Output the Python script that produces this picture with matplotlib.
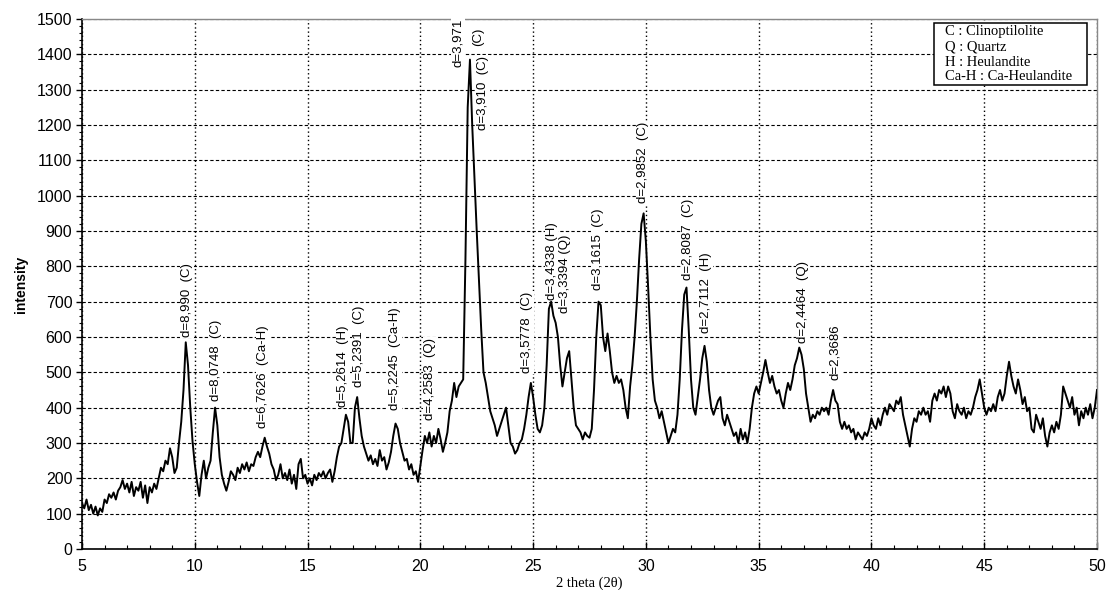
import numpy as np
import matplotlib
matplotlib.use("Agg")
import matplotlib.pyplot as plt
from matplotlib.ticker import MultipleLocator
from matplotlib.patches import Rectangle

# ---- data ----
two_theta = np.round(np.arange(5.0, 50.001, 0.1), 1)
intensity = [
    130, 115, 140, 110, 125, 100, 120, 95, 115, 105,        # 5
    140, 130, 155, 145, 160, 140, 165, 175, 195, 170,       # 6
    185, 160, 190, 150, 175, 165, 190, 145, 180, 130,       # 7
    175, 160, 185, 170, 200, 230, 220, 250, 240, 285,       # 8
    260, 215, 230, 300, 360, 450, 585, 520, 400, 305,       # 9
    240, 190, 150, 210, 250, 200, 230, 250, 330, 400,       # 10
    350, 260, 210, 185, 165, 190, 220, 210, 195, 230,       # 11
    215, 240, 225, 245, 220, 240, 235, 260, 275, 260,       # 12
    290, 315, 290, 270, 240, 225, 195, 210, 240, 200,       # 13
    215, 195, 225, 185, 210, 170, 240, 255, 200, 210,       # 14
    185, 200, 180, 210, 195, 215, 205, 220, 200, 215,       # 15
    225, 190, 220, 260, 290, 300, 340, 380, 360, 300,       # 16
    300, 400, 430, 370, 320, 290, 270, 250, 265, 240,       # 17
    255, 235, 280, 250, 260, 225, 245, 275, 320, 355,       # 18
    340, 300, 275, 250, 255, 225, 240, 210, 220, 190,       # 19
    235, 280, 320, 300, 330, 290, 320, 300, 340, 310,       # 20
    275, 300, 330, 390, 420, 470, 430, 460, 470, 480,       # 21
    820, 1250, 1385, 1200, 1050, 900, 760, 620, 500, 470,   # 22
    430, 390, 370, 350, 320, 340, 360, 380, 400, 350,       # 23
    300, 290, 270, 280, 300, 310, 340, 380, 430, 470,       # 24
    430, 380, 340, 330, 350, 400, 520, 680, 700, 660,       # 25
    640, 600, 520, 460, 500, 540, 560, 480, 400, 350,       # 26
    340, 330, 310, 330, 320, 315, 340, 450, 600, 700,       # 27
    690, 600, 560, 610, 560, 500, 470, 490, 470, 480,       # 28
    450, 400, 370, 460, 520, 600, 700, 820, 920, 950,       # 29
    870, 740, 600, 480, 420, 400, 370, 390, 360, 330,       # 30
    300, 320, 340, 330, 380, 480, 620, 720, 740, 620,       # 31
    480, 400, 380, 430, 480, 540, 575, 530, 450, 400,       # 32
    380, 400, 420, 430, 370, 350, 380, 360, 340, 320,       # 33
    330, 300, 340, 310, 330, 300, 340, 400, 440, 460,       # 34
    440, 470, 500, 535, 500, 470, 490, 460, 440, 450,       # 35
    420, 400, 440, 470, 450, 480, 520, 540, 570, 550,       # 36
    510, 440, 400, 360, 380, 370, 390, 380, 400, 390,       # 37
    400, 380, 420, 450, 420, 410, 360, 340, 360, 340,       # 38
    350, 330, 340, 310, 330, 320, 310, 330, 320, 340,       # 39
    370, 350, 340, 370, 350, 380, 400, 380, 410, 400,       # 40
    390, 420, 410, 430, 380, 350, 320, 290, 340, 370,       # 41
    360, 390, 380, 400, 380, 390, 360, 420, 440, 420,       # 42
    450, 440, 460, 430, 460, 440, 390, 370, 410, 390,       # 43
    380, 400, 370, 390, 380, 400, 430, 450, 480, 440,       # 44
    400, 380, 400, 390, 410, 390, 430, 450, 420, 440,       # 45
    490, 530, 490, 460, 440, 480, 450, 410, 430, 390,       # 46
    400, 340, 330, 380, 360, 340, 370, 320, 290, 330,       # 47
    350, 330, 360, 340, 380, 460, 440, 420, 400, 430,       # 48
    380, 400, 350, 390, 370, 400, 380, 410, 370, 400,       # 49
    450,                                                    # 50
]

peak_labels = [
    "d=8,990  (C)", "d=8,0748  (C)", "d=6,7626  (Ca-H)", "d=5,2614  (H)",
    "d=5,2391  (C)", "d=5,2245  (Ca-H)", "d=4,2583  (Q)", "d=3,971",
    "d=3,910  (C)", "d=3,5778  (C)", "d=3,4338 (H)", "d=3,3394 (Q)",
    "d=3,1615  (C)", "d=2,9852  (C)", "d=2,8087  (C)", "d=2,7112  (H)",
    "d=2,4464  (Q)", "d=2,3686",
]
label_x = [9.65, 10.94, 13.03, 16.57, 17.28, 18.87, 20.43, 21.67,
           22.78, 24.73, 25.83, 26.41, 27.87, 29.87, 31.86, 32.66,
           36.96, 38.38]
label_y = [600, 420, 342, 402, 459, 393, 365, 1364,
           1186, 498, 705, 668, 733, 979, 761, 611,
           583, 478]

legend_lines = ["C : Clinoptilolite", "Q : Quartz", "H : Heulandite",
                "Ca-H : Ca-Heulandite"]

# ---- figure ----
W, H = 1107, 590
L, R, T, B = 82, 1097, 19, 549
fig = plt.figure(figsize=(W/100, H/100), dpi=100)
ax = fig.add_axes([L/W, (H-B)/H, (R-L)/W, (B-T)/H])

ax.plot(two_theta, intensity, color="black", lw=1.4, zorder=3)

ax.set_xlim(5, 50)
ax.set_ylim(0, 1500)
ax.xaxis.set_major_locator(MultipleLocator(5))
ax.xaxis.set_minor_locator(MultipleLocator(1))
ax.yaxis.set_major_locator(MultipleLocator(100))
ax.yaxis.set_minor_locator(MultipleLocator(20))

ax.grid(True, axis="y", which="major", color="black", linestyle=(0, (3, 2)),
        linewidth=0.8, zorder=1)
ax.grid(True, axis="x", which="major", color="black", linestyle=(0, (1, 2)),
        linewidth=1.0, zorder=1)

for lbl in ax.get_xticklabels() + ax.get_yticklabels():
    lbl.set_fontfamily("Liberation Sans")
    lbl.set_fontsize(11.5)
ax.tick_params(axis="y", which="major", direction="out", length=4, width=1, pad=3)
ax.tick_params(axis="y", which="minor", direction="out", length=2, width=0.8)
ax.tick_params(axis="x", which="major", direction="in", length=5, width=1, pad=7)
ax.tick_params(axis="x", which="minor", direction="in", length=3, width=0.8)

ax.spines["left"].set_linewidth(1.2)
ax.spines["bottom"].set_linewidth(1.2)
for s in ("top", "right"):
    ax.spines[s].set_color("#888888")
    ax.spines[s].set_linewidth(1.0)

ax.set_xlabel("2 theta (2θ)", fontfamily="Liberation Serif", fontsize=10.5)
ax.xaxis.set_label_coords(0.5, (B-583)/(B-T), transform=ax.transAxes)
ax.xaxis.label.set_va("center")
ax.set_ylabel("intensity", fontfamily="Liberation Sans", fontsize=10,
              fontweight="bold", labelpad=6)

for txt, x, y in zip(peak_labels, label_x, label_y):
    ax.text(x, y, txt, rotation=90, ha="center", va="bottom",
            fontfamily="Liberation Sans", fontsize=9.5, zorder=4,
            bbox=dict(facecolor="white", edgecolor="none", pad=0.5))
ax.text(22.55, 1449, "(C)", rotation=90, ha="center", va="center",
        fontfamily="Liberation Sans", fontsize=9.5, zorder=4,
        bbox=dict(facecolor="white", edgecolor="none", pad=0.5))

# legend box (pixel-based placement converted to axes fractions)
def fx(px):
    return (px - L) / (R - L)

def fy(py):
    return (B - py) / (B - T)

ax.add_patch(Rectangle((fx(934), fy(85)), fx(1087) - fx(934), fy(23) - fy(85),
                       transform=ax.transAxes, facecolor="white",
                       edgecolor="black", linewidth=1.1, zorder=5))
for line, py in zip(legend_lines, [32, 47, 62, 76]):
    ax.text(fx(945), fy(py), line, transform=ax.transAxes, ha="left",
            va="center", fontfamily="Liberation Serif", fontsize=10.5,
            zorder=6)

fig.savefig("out.png", dpi=100, facecolor="white")
